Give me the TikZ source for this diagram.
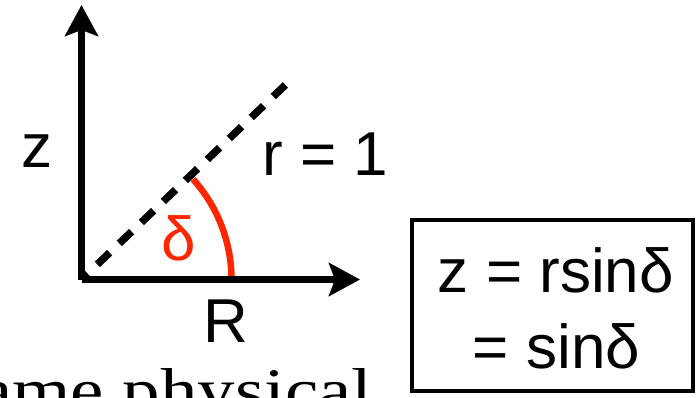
\documentclass[tikz,border=0pt]{standalone}
\usepackage{fontspec}
\setmainfont{Liberation Sans}
\newfontfamily\serifbody{Liberation Serif}
\usetikzlibrary{arrows.meta,calc}
\definecolor{arcred}{RGB}{255,38,0}
\begin{document}
\begin{tikzpicture}[x=1pt,y=-1pt,
  axis/.style={line width=7pt,line cap=square,-{Stealth[length=31pt,width=33pt,inset=6pt]}},
  dashline/.style={line width=7.5pt,dash pattern=on 17pt off 13.4pt,dash phase=8.5pt},
  arcline/.style={line width=6.5pt,draw=arcred},
  lbl/.style={font=\fontsize{62}{74}\selectfont,inner sep=0pt,anchor=base},
  eqbox/.style={draw,line width=4pt,minimum width=281pt,minimum height=171pt,inner sep=0pt}]
\useasboundingbox (0,0) rectangle (698,397);
\clip (0,0) rectangle (698,397);
\coordinate (o) at (81.5,279.5);
\coordinate (ztip) at (81.5,5);
\coordinate (rtip) at (360,279.5);
\coordinate (rend) at ($(o)+(203.9,-194.6)$);
\coordinate (arcstart) at ($(o)+(150,0)$);
% dashed radius and red angle arc
\draw[dashline] (o) -- (rend);
\draw[arcline] (arcstart) arc[start angle=0,end angle=-42,radius=150];
% axes
\draw[axis] (o) -- (ztip);
\draw[axis] (o) -- (rtip);
% labels
\node[lbl] (zl) at (37,167) {z};
\node[lbl,anchor=base west] (rl) at (262,175) {r = 1};
\node[lbl] (Rl) at (226,342) {R};
\node[lbl,text=arcred] (dl) at (179,260) {δ};
% boxed equation
\node[eqbox] (box) at (552.5,305.5) {};
\node[lbl] (eq1) at (556,292) {z = rsinδ};
\node[lbl] (eq2) at (556.5,368) {= sinδ};
% clipped caption text
\node[font=\serifbody\fontsize{62}{74}\selectfont,inner sep=0pt,anchor=base east,xscale=1.21] (cap) at (373,411) {same physical};
\end{tikzpicture}
\end{document}
